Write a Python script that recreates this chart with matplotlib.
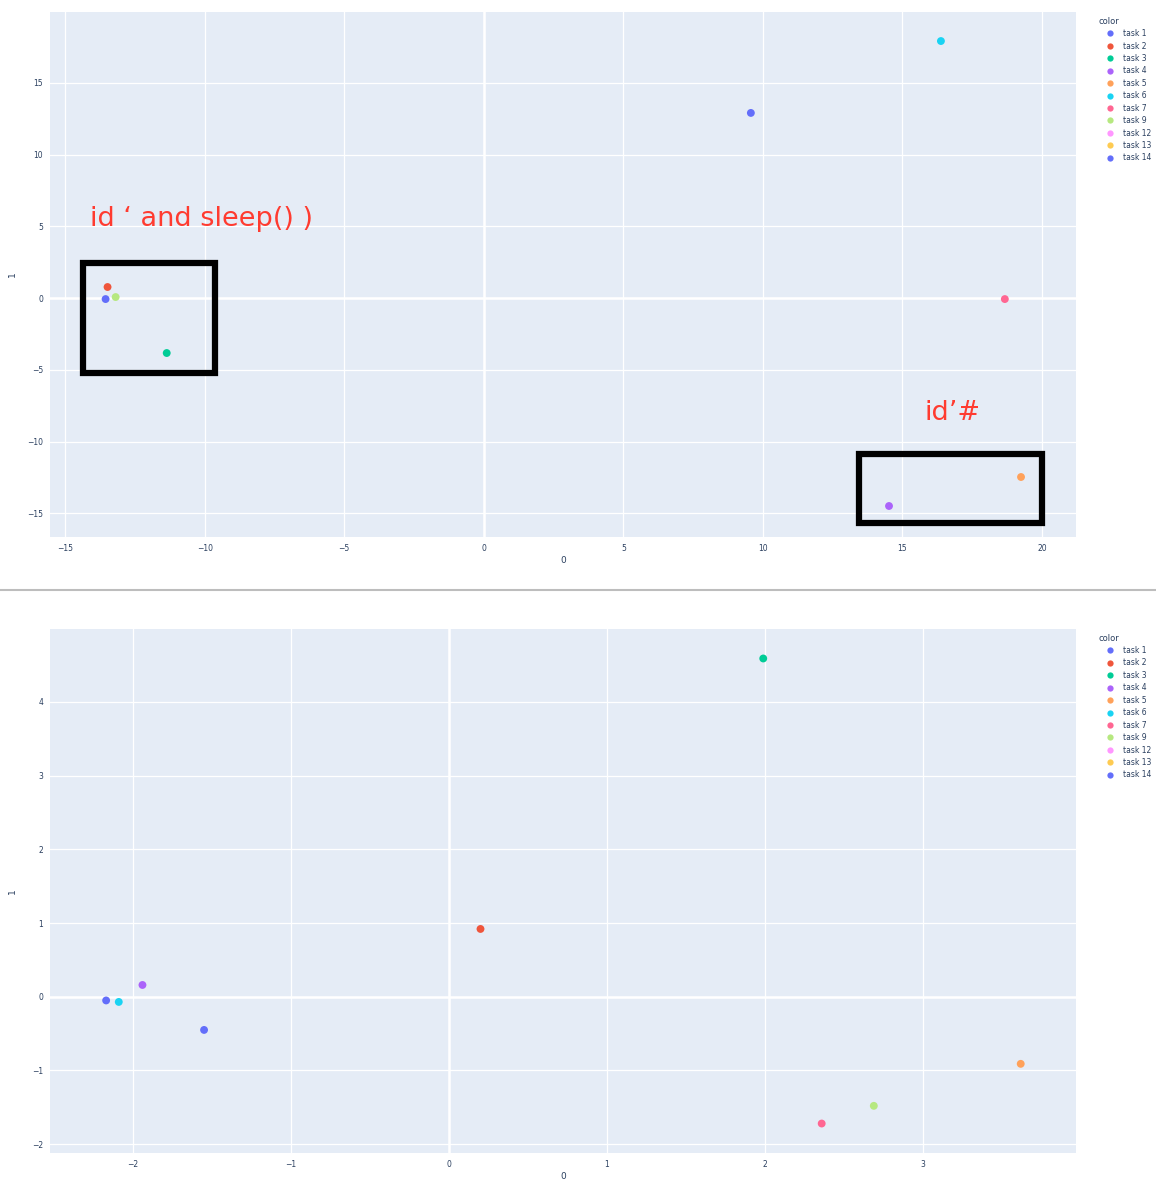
import matplotlib
matplotlib.use('Agg')
import matplotlib.pyplot as plt
from matplotlib.patches import Rectangle
from matplotlib.lines import Line2D

# Task labels and plotly default colours
tasks = ['task 1', 'task 2', 'task 3', 'task 4', 'task 5', 'task 6',
         'task 7', 'task 9', 'task 12', 'task 13', 'task 14']
colors = ['#636EFA', '#EF553B', '#00CC96', '#AB63FA', '#FFA15A', '#19D3F3',
          '#FF6692', '#B6E880', '#FF97FF', '#FECB52', '#636EFA']

# Top panel embedding (one point per task, None = not visible)
top_x = [-13.55, -13.48, -11.36, 14.52, 19.25, 16.38, 18.67, -13.19, None, None, 9.57]
top_y = [-0.07, 0.77, -3.83, -14.49, -12.47, 17.91, -0.07, 0.07, None, None, 12.9]

# Bottom panel embedding
bot_x = [-2.17, 0.20, 1.99, -1.94, 3.62, -2.09, 2.36, 2.69, None, None, -1.55]
bot_y = [-0.05, 0.92, 4.59, 0.16, -0.91, -0.07, -1.72, -1.48, None, None, -0.45]

top_xticks = [-15, -10, -5, 0, 5, 10, 15, 20]
top_yticks = [-15, -10, -5, 0, 5, 10, 15]
bot_xticks = [-2, -1, 0, 1, 2, 3]
bot_yticks = [-2, -1, 0, 1, 2, 3, 4]

BG = '#E5ECF6'
TXT = '#2a3f5f'

fig = plt.figure(figsize=(11.56, 11.81), dpi=100)
ax1 = fig.add_axes([0.0433, 0.5453, 0.8875, 0.4445])
ax2 = fig.add_axes([0.0433, 0.0237, 0.8875, 0.4437])


def style(ax, xlim, ylim, xticks, yticks):
    ax.set_facecolor(BG)
    for s in ax.spines.values():
        s.set_visible(False)
    ax.set_xlim(*xlim)
    ax.set_ylim(*ylim)
    ax.set_xticks(xticks)
    ax.set_yticks(yticks)
    ax.set_xticklabels([str(t).replace('-', '\u2212') for t in xticks])
    ax.set_yticklabels([str(t).replace('-', '\u2212') for t in yticks])
    ax.tick_params(length=0, labelsize=5.5, colors=TXT, pad=5)
    ax.grid(True, color='white', lw=0.9)
    ax.set_axisbelow(True)
    ax.axhline(0, color='white', lw=1.8, zorder=1)
    ax.axvline(0, color='white', lw=1.8, zorder=1)
    ax.set_xlabel('0', fontsize=6.5, color=TXT)
    ax.set_ylabel('1', fontsize=6.5, color=TXT)
    ax.xaxis.set_label_coords(0.5, -0.036)
    ax.yaxis.set_label_coords(-0.032, 0.5)


def draw(ax, xs, ys):
    for x, y, c in zip(xs, ys, colors):
        if x is None:
            continue
        ax.scatter([x], [y], s=32, color=c, edgecolors='none', zorder=3)
    handles = [Line2D([], [], marker='o', ls='', color=c, markersize=4.5,
                      markeredgewidth=0) for c in colors]
    leg = ax.legend(handles, tasks, title='color', loc='upper left',
                    bbox_to_anchor=(1.017, 1.0), frameon=False, fontsize=5.5,
                    title_fontsize=6, labelspacing=0.45, handletextpad=0.15,
                    handlelength=3.1, borderaxespad=0.2)
    leg._legend_box.align = 'left'
    for t in leg.get_texts():
        t.set_color(TXT)
    leg.get_title().set_color(TXT)


style(ax1, (-15.54, 21.22), (-16.65, 19.93), top_xticks, top_yticks)
draw(ax1, top_x, top_y)
style(ax2, (-2.525, 3.97), (-2.12, 4.99), bot_xticks, bot_yticks)
draw(ax2, bot_x, bot_y)

# annotations on the top panel
ax1.add_patch(Rectangle((-14.37, -5.23), 4.73, 7.67, fill=False, ec='black',
                        lw=4.5, zorder=4))
ax1.add_patch(Rectangle((13.44, -15.68), 6.56, 4.81, fill=False, ec='black',
                        lw=4.5, zorder=4))
ax1.text(-14.1, 5.5, 'id \u2018 and sleep() )', color='#FF3B30', fontsize=19.5,
         va='center', ha='left', zorder=5)
ax1.text(15.8, -8.0, 'id\u2019#', color='#FF3B30', fontsize=19.5,
         va='center', ha='left', zorder=5)

# separator between the two screenshots
fig.add_artist(Line2D([0, 1], [0.5005, 0.5005], color='#BDBDBD', lw=1.5,
                      transform=fig.transFigure))

fig.savefig('out.png', dpi=100)
